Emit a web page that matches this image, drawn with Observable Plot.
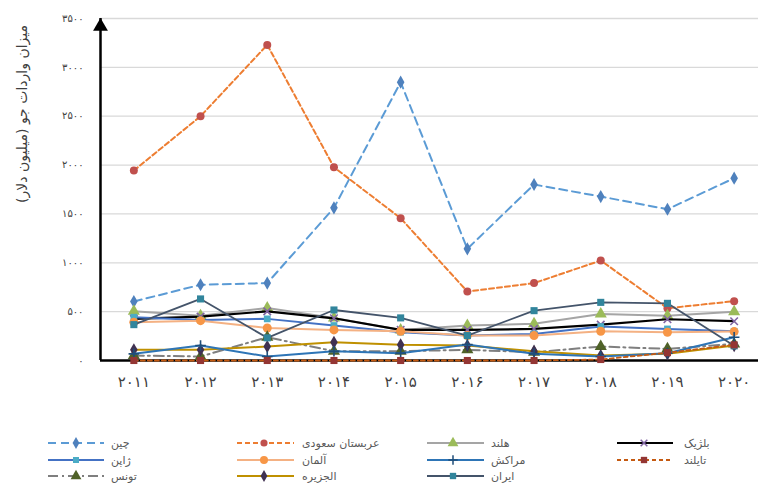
<!DOCTYPE html>
<html><head><meta charset="utf-8">
<script src="https://cdn.jsdelivr.net/npm/d3@7"></script>
<script src="https://cdn.jsdelivr.net/npm/@observablehq/plot@0.6"></script>
<style>
body{margin:0;background:#fff;font-family:"DejaVu Sans",sans-serif;width:758px;overflow:hidden}
#chart svg{display:block}
</style>
</head><body><div id="chart"></div><div id="legend"></div>
<script>
// ---- data ----
const years = [2011, 2012, 2013, 2014, 2015, 2016, 2017, 2018, 2019, 2020];
const yTicks = [0, 500, 1000, 1500, 2000, 2500, 3000, 3500];
const yTitle = "میزان واردات جو (میلیون دلار)";

const china       = [604, 775, 792, 1562, 2848, 1143, 1801, 1678, 1548, 1866];
const saudi       = [1944, 2500, 3230, 1978, 1456, 706, 792, 1023, 535, 607];
const netherlands = [503, 459, 538, 436, 313, 358, 375, 477, 459, 500];
const belgium     = [426, 449, 503, 432, 313, 313, 323, 367, 422, 402];
const japan       = [443, 415, 426, 358, 290, 255, 272, 347, 323, 299];
const germany     = [392, 408, 333, 313, 299, 255, 255, 299, 289, 296];
const morocco     = [68, 153, 41, 95, 75, 163, 68, 41, 75, 238];
const thailand    = [0, 0, 0, 0, 0, 0, 0, 10, 80, 160];
const tunisia     = [51, 41, 238, 95, 95, 109, 85, 143, 119, 170];
const algeria     = [109, 109, 143, 187, 160, 153, 95, 51, 68, 153];
const iran        = [367, 630, 232, 517, 436, 255, 510, 595, 585, 150];

// ---- styles (kept separate from data) ----
const series = [
  {name:"چین", values:china, stroke:"#5b9bd5", dash:"8,5", sw:2, symbol:"diamond", mfill:"#4f81bd", r:4},
  {name:"عربستان سعودی", values:saudi, stroke:"#ed7d31", dash:"5,3", sw:2, symbol:"circle", mfill:"#c0504d", r:4},
  {name:"هلند", values:netherlands, stroke:"#a5a5a5", dash:null, sw:2, symbol:"triangle", mfill:"#9bbb59", r:4.5},
  {name:"بلژیک", values:belgium, stroke:"#000000", dash:null, sw:2.2, symbol:"times", mstroke:"#8064a2", r:3.5},
  {name:"ژاپن", values:japan, stroke:"#4472c4", dash:null, sw:2, symbol:"square", mfill:"#4bacc6", r:3.8},
  {name:"آلمان", values:germany, stroke:"#f4b183", dash:null, sw:2, symbol:"circle", mfill:"#f79646", r:4.5},
  {name:"مراکش", values:morocco, stroke:"#2e75b6", dash:null, sw:2, symbol:"plus", mstroke:"#1f4e79", r:3.5},
  {name:"تایلند", values:thailand, stroke:"#c55a11", dash:"4,3", sw:1.8, symbol:"square", mfill:"#943634", r:4},
  {name:"تونس", values:tunisia, stroke:"#7f7f7f", dash:"10,4,2,4", sw:2, symbol:"triangle", mfill:"#4f6228", r:4.5},
  {name:"الجزیره", values:algeria, stroke:"#bf9000", dash:null, sw:2, symbol:"diamond", mfill:"#403151", r:4},
  {name:"ایران", values:iran, stroke:"#44546a", dash:null, sw:1.8, symbol:"square", mfill:"#31859c", r:4}
];
const drawOrder = [0,1,2,3,4,5,8,9,6,10,7];

const faDigits = "۰۱۲۳۴۵۶۷۸۹";
const fa = n => String(n).replace(/\d/g, d => faDigits[+d]);
const rtl = s => "\u202B" + s + "\u202C";

const x0 = years[0] - 0.5, x1 = years[years.length-1] + 0.5;
const yMax = yTicks[yTicks.length-1];

const marks = [
  Plot.ruleY(yTicks.filter(d => d > 0), {stroke:"#d9d9d9", strokeWidth:1.3}),
  Plot.axisY(yTicks, {tickSize:0, tickPadding:17, tickFormat:fa, fontSize:10, color:"#404040", label:null}),
  Plot.axisX(years, {tickSize:0, tickPadding:16, tickFormat:fa, fontSize:15, color:"#404040", label:null}),
  Plot.ruleX([x0], {y1:0, y2:yMax, stroke:"black", strokeWidth:2.5}),
  Plot.dot([x0], {x:d => d, y:() => yMax, dy:8, symbol:"triangle", fill:"black", r:5.5}),
  Plot.ruleY([0], {stroke:"black", strokeWidth:2.5})
];
for (const i of drawOrder) {
  const s = series[i];
  const data = years.map((yr, k) => ({year: yr, value: s.values[k]}));
  marks.push(Plot.line(data, {x:"year", y:"value", stroke:s.stroke, strokeWidth:s.sw, strokeDasharray:s.dash || undefined}));
  marks.push(Plot.dot(data, {x:"year", y:"value", symbol:s.symbol, r:s.r,
    fill: s.mfill || "none", stroke: s.mstroke || "none", strokeWidth: s.mstroke ? 1.6 : 0}));
}

const chart = Plot.plot({
  width: 758, height: 410,
  marginLeft: 100, marginRight: 0, marginTop: 18, marginBottom: 50,
  style: {fontFamily: '"DejaVu Sans", sans-serif', background: "#fff"},
  x: {type:"linear", domain:[x0, x1], range:[100, 767], label:null},
  y: {domain:[0, yMax], label:null},
  marks
});
const svg = d3.select(chart);
svg.selectAll('g[aria-label="x-axis tick label"] text').style("letter-spacing","4px");
svg.selectAll('g[aria-label="y-axis tick label"] text').style("letter-spacing","1.5px");
svg.append("text")
  .attr("transform","translate(22,114) rotate(-90)")
  .attr("text-anchor","middle").attr("dy","0.35em")
  .attr("font-size",14).attr("fill","#404040")
  .text(rtl(yTitle));
document.getElementById("chart").appendChild(chart);

// ---- legend ----
const cols = [
  {textLeft:111, x1:48, x2:104, mx:76, items:[0,4,8]},
  {textLeft:302, x1:237, x2:294, mx:264, items:[1,5,9]},
  {textLeft:491, x1:427, x2:484, mx:453, items:[2,6,10]},
  {textLeft:684, x1:617, x2:673, mx:644, items:[3,7]}
];
const rowY = [33, 50, 66];
const symMap = {diamond:d3.symbolDiamond, circle:d3.symbolCircle, triangle:d3.symbolTriangle,
  square:d3.symbolSquare, times:d3.symbolTimes, plus:d3.symbolPlus};
const lg = d3.select("#legend").append("svg").attr("width",758).attr("height",73)
  .style("display","block").style("font-family",'"DejaVu Sans", sans-serif');
cols.forEach(c => c.items.forEach((idx, r) => {
  const s = series[idx], y = rowY[r];
  lg.append("line").attr("x1",c.x1).attr("x2",c.x2).attr("y1",y).attr("y2",y)
    .attr("stroke",s.stroke).attr("stroke-width",s.sw).attr("stroke-dasharray",s.dash || null);
  lg.append("path").attr("transform",`translate(${c.mx},${y})`)
    .attr("d", d3.symbol(symMap[s.symbol], Math.PI*s.r*s.r*0.8)())
    .attr("fill", s.mfill || "none").attr("stroke", s.mstroke || "none").attr("stroke-width", s.mstroke ? 1.5 : 0);
  lg.append("text").attr("x",c.textLeft).attr("y",y).attr("dy","0.35em")
    .attr("text-anchor","start").attr("font-size",11).attr("fill","#595959").text(s.name);
}));
</script>
</body></html>
